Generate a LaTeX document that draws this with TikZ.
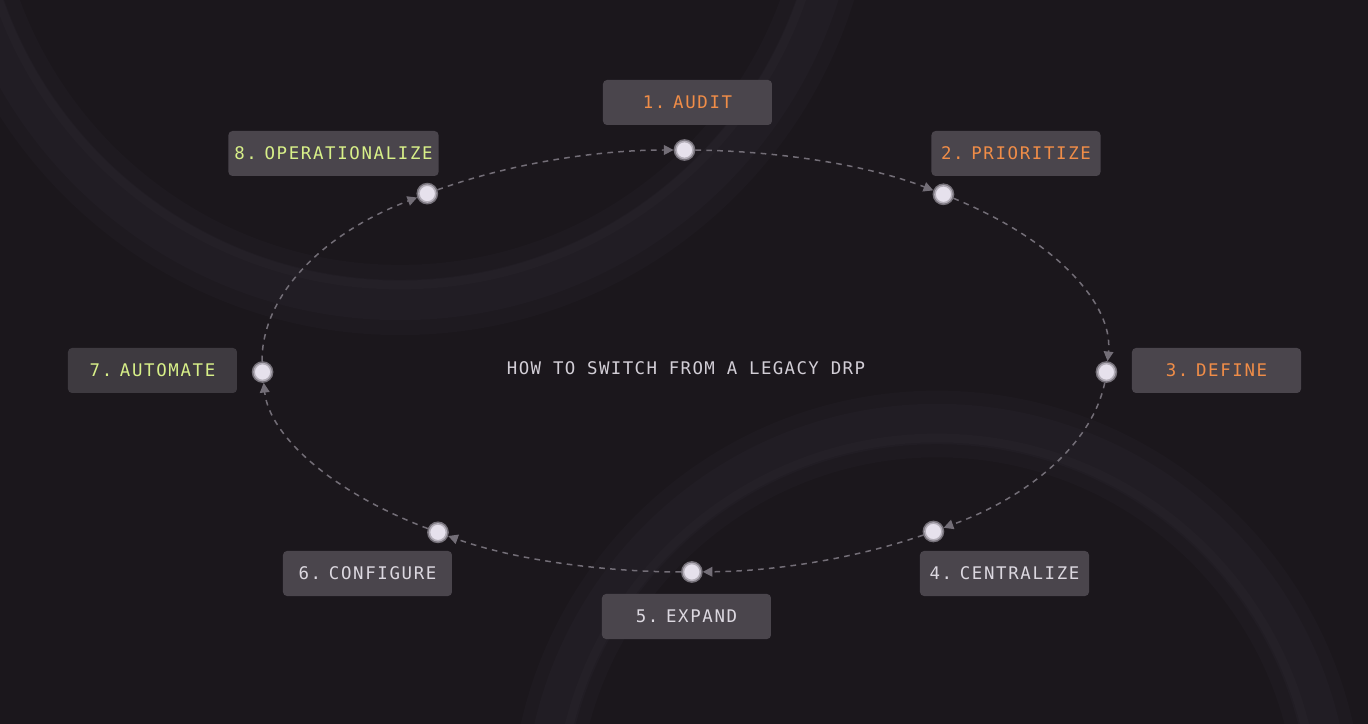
\documentclass[tikz,border=0pt]{standalone}
\usepackage{fontspec}
\newfontfamily\titlefont{DejaVu Sans Mono}[LetterSpace=8, WordSpace=1]
\newfontfamily\stagefont{DejaVu Sans Mono}[LetterSpace=9.5, WordSpace=0.3]
\usetikzlibrary{arrows.meta}
\definecolor{bgdark}{HTML}{1B171C}
\definecolor{ringglow}{HTML}{1E1A20}
\definecolor{ringgrey}{HTML}{211D24}
\definecolor{ringedge}{HTML}{242027}
\definecolor{boxgrey}{HTML}{4A454C}
\definecolor{boxdark}{HTML}{3E3A40}
\definecolor{stageorange}{HTML}{F08D48}
\definecolor{stagelime}{HTML}{D8F089}
\definecolor{stagegrey}{HTML}{DCD8E0}
\definecolor{titlegrey}{HTML}{D2CED6}
\definecolor{dotwhite}{HTML}{E6E1EC}
\definecolor{dotglow}{HTML}{9E99A3}
\definecolor{flowgrey}{HTML}{736E77}
\begin{document}
\begin{tikzpicture}[x=0.2mm,y=0.2mm,
  stage/.style={rectangle, rounded corners=2.3pt, fill=boxgrey, minimum width=33.8mm, minimum height=9mm, font=\stagefont\fontsize{9.9}{12}\selectfont},
  dot/.style={circle, fill=dotwhite, draw=dotglow, draw opacity=0.7, line width=1.8pt, inner sep=0pt, minimum size=3.7mm},
  flow/.style={draw=flowgrey, line width=0.85pt, dash pattern=on 3.2pt off 3pt, -{Triangle[length=5.5pt,width=5.5pt]}, shorten >=6.2pt},
  ring/.style={draw=ringgrey, line width=23pt}]
\useasboundingbox (-684.5,-363) rectangle (683.5,361);
\clip (-684.5,-363) rectangle (683.5,361);
\fill[bgdark] (-684.5,-363) rectangle (683.5,361);
\draw[ringglow, line width=40pt] (-284.5,501) circle[radius=440];
\draw[ringglow, line width=38pt] (252.5,-456) circle[radius=393];
\draw[ring] (-284.5,501) circle[radius=440];
\draw[ring] (252.5,-456) circle[radius=393];
\draw[ringedge, line width=5pt] (-284.5,501) circle[radius=425];
\draw[ringedge, line width=5pt] (252.5,-456) circle[radius=379];
\node[font=\titlefont\fontsize{9.9}{12}\selectfont, text=titlegrey] (title) at (1.5,-7) {HOW TO SWITCH FROM A LEGACY DRP};
\node[stage, text=stageorange] (s1) at (3,258.5) {1. AUDIT};
\node[stage, text=stageorange] (s2) at (331.5,207.5) {2. PRIORITIZE};
\node[stage, text=stageorange] (s3) at (532,-9.5) {3. DEFINE};
\node[stage, text=stagegrey] (s4) at (320,-212.5) {4. CENTRALIZE};
\node[stage, text=stagegrey] (s5) at (2,-255.5) {5. EXPAND};
\node[stage, text=stagegrey] (s6) at (-317,-212.5) {6. CONFIGURE};
\node[stage, fill=boxdark, text=stagelime] (s7) at (-532,-9.5) {7. AUTOMATE};
\node[stage, text=stagelime] (s8) at (-351,207.5) {8. OPERATIONALIZE};
\coordinate (d1) at (90:422.5 and 211);
\coordinate (d2) at (52.2:422.5 and 211);
\coordinate (d3) at (-3:422.5 and 211);
\coordinate (d4) at (-53.9:422.5 and 211);
\coordinate (d5) at (-89:422.5 and 211);
\coordinate (d6) at (-125.7:422.5 and 211);
\coordinate (d7) at (183:422.5 and 211);
\coordinate (d8) at (127.5:422.5 and 211);
\draw[flow] (d1) arc[start angle=90, end angle=52.2, x radius=422.5, y radius=211];
\draw[flow] (d2) arc[start angle=52.2, end angle=-3, x radius=422.5, y radius=211];
\draw[flow] (d3) arc[start angle=-3, end angle=-53.9, x radius=422.5, y radius=211];
\draw[flow] (d4) arc[start angle=-53.9, end angle=-89, x radius=422.5, y radius=211];
\draw[flow] (d5) arc[start angle=-89, end angle=-125.7, x radius=422.5, y radius=211];
\draw[flow] (d6) arc[start angle=-125.7, end angle=-177, x radius=422.5, y radius=211];
\draw[flow] (d7) arc[start angle=183, end angle=127.5, x radius=422.5, y radius=211];
\draw[flow] (d8) arc[start angle=127.5, end angle=90, x radius=422.5, y radius=211];
\node[dot] (p1) at (d1) {};
\node[dot] (p2) at (d2) {};
\node[dot] (p3) at (d3) {};
\node[dot] (p4) at (d4) {};
\node[dot] (p5) at (d5) {};
\node[dot] (p6) at (d6) {};
\node[dot] (p7) at (d7) {};
\node[dot] (p8) at (d8) {};
\end{tikzpicture}
\end{document}
